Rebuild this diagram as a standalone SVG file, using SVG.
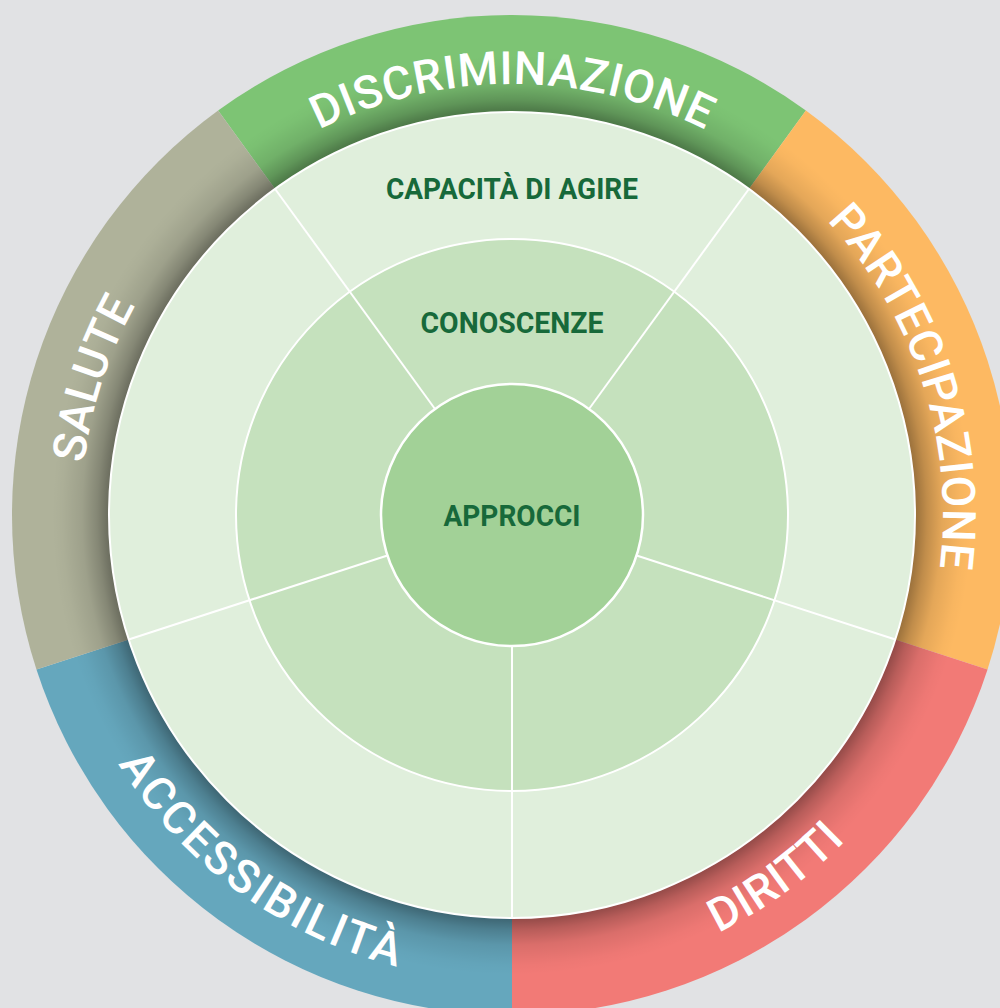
<svg xmlns="http://www.w3.org/2000/svg" xmlns:xlink="http://www.w3.org/1999/xlink" width="1000" height="1008" viewBox="0 0 1000 1008">
  <defs>
    <style>
      .ring { font-family: Roboto, "DejaVu Sans", sans-serif; font-size: 46px; fill: #ffffff; font-weight: 500; }
      .lbl { font-family: Roboto, "DejaVu Sans", sans-serif; font-size: 29px; fill: #17693a; font-weight: 700; text-anchor: middle; }
      .div { stroke: #ffffff; stroke-width: 2; fill: none; }
    </style>
    <radialGradient id="shadow" cx="512" cy="515" r="500" gradientUnits="userSpaceOnUse">
      <stop offset="0.80" stop-color="#000" stop-opacity="0.42"/>
      <stop offset="0.812" stop-color="#000" stop-opacity="0.36"/>
      <stop offset="0.83" stop-color="#000" stop-opacity="0.24"/>
      <stop offset="0.86" stop-color="#000" stop-opacity="0.10"/>
      <stop offset="0.90" stop-color="#000" stop-opacity="0.02"/>
      <stop offset="0.92" stop-color="#000" stop-opacity="0"/>
    </radialGradient>
    <path id="p-disc" d="M87.56,440.15 A431,431 0 0 1 936.44,440.15"/>
    <path id="p-part" d="M452.02,88.2 A431,431 0 0 1 714.34,895.55"/>
    <path id="p-salu" d="M309.66,895.55 A431,431 0 0 1 571.98,88.2"/>
    <path id="p-diri" d="M188.29,850.21 A466,466 0 0 0 930.84,310.72"/>
    <path id="p-acce" d="M93.16,310.72 A466,466 0 0 0 835.71,850.21"/>
  </defs>

  <rect x="0" y="0" width="1000" height="1008" fill="#e1e2e4"/>

  <g id="outer-ring">
    <path id="seg-discriminazione" d="M512,515 L218.11,110.49 A500,500 0 0 1 805.89,110.49 Z" fill="#7dc474"/>
    <path id="seg-partecipazione" d="M512,515 L805.89,110.49 A500,500 0 0 1 987.53,669.51 Z" fill="#fdb962"/>
    <path id="seg-diritti" d="M512,515 L987.53,669.51 A500,500 0 0 1 512,1015 Z" fill="#f27a76"/>
    <path id="seg-accessibilita" d="M512,515 L512,1015 A500,500 0 0 1 36.47,669.51 Z" fill="#65a7bd"/>
    <path id="seg-salute" d="M512,515 L36.47,669.51 A500,500 0 0 1 218.11,110.49 Z" fill="#afb29a"/>
    <circle cx="512" cy="515" r="500" fill="url(#shadow)"/>
  </g>

  <g id="ring-labels">
    <text class="ring"><textPath xlink:href="#p-disc" href="#p-disc" startOffset="50%" text-anchor="middle" textLength="400" lengthAdjust="spacing">DISCRIMINAZIONE</textPath></text>
    <text class="ring"><textPath xlink:href="#p-part" href="#p-part" startOffset="50%" text-anchor="middle" textLength="377" lengthAdjust="spacing">PARTECIPAZIONE</textPath></text>
    <text class="ring"><textPath xlink:href="#p-salu" href="#p-salu" startOffset="50%" text-anchor="middle" textLength="167" lengthAdjust="spacing">SALUTE</textPath></text>
    <text class="ring"><textPath xlink:href="#p-diri" href="#p-diri" startOffset="50%" text-anchor="middle" textLength="158" lengthAdjust="spacing">DIRITTI</textPath></text>
    <text class="ring"><textPath xlink:href="#p-acce" href="#p-acce" startOffset="50%" text-anchor="middle" textLength="353" lengthAdjust="spacing">ACCESSIBILITÀ</textPath></text>
  </g>

  <g id="capacita">
    <circle cx="512" cy="515" r="403" fill="#e0efdc" stroke="#ffffff" stroke-width="2"/>
    <text class="lbl" x="512" y="199" textLength="252" lengthAdjust="spacingAndGlyphs">CAPACITÀ DI AGIRE</text>
  </g>

  <g id="conoscenze">
    <circle cx="512" cy="515" r="276" fill="#c5e1bd" stroke="#ffffff" stroke-width="2"/>
    <text class="lbl" x="512" y="333" textLength="183" lengthAdjust="spacingAndGlyphs">CONOSCENZE</text>
  </g>

  <g id="connectors">
    <line class="div" x1="435" y1="409" x2="275.12" y2="188.97"/>
    <line class="div" x1="589" y1="409" x2="748.88" y2="188.97"/>
    <line class="div" x1="636.59" y1="555.48" x2="895.28" y2="639.53"/>
    <line class="div" x1="387.41" y1="555.48" x2="128.72" y2="639.53"/>
    <line class="div" x1="512" y1="646" x2="512" y2="918"/>
  </g>

  <g id="approcci">
    <circle cx="512" cy="515" r="131" fill="#a2d197" stroke="#ffffff" stroke-width="2.5"/>
    <text class="lbl" x="512" y="526" textLength="137" lengthAdjust="spacingAndGlyphs">APPROCCI</text>
  </g>
</svg>
